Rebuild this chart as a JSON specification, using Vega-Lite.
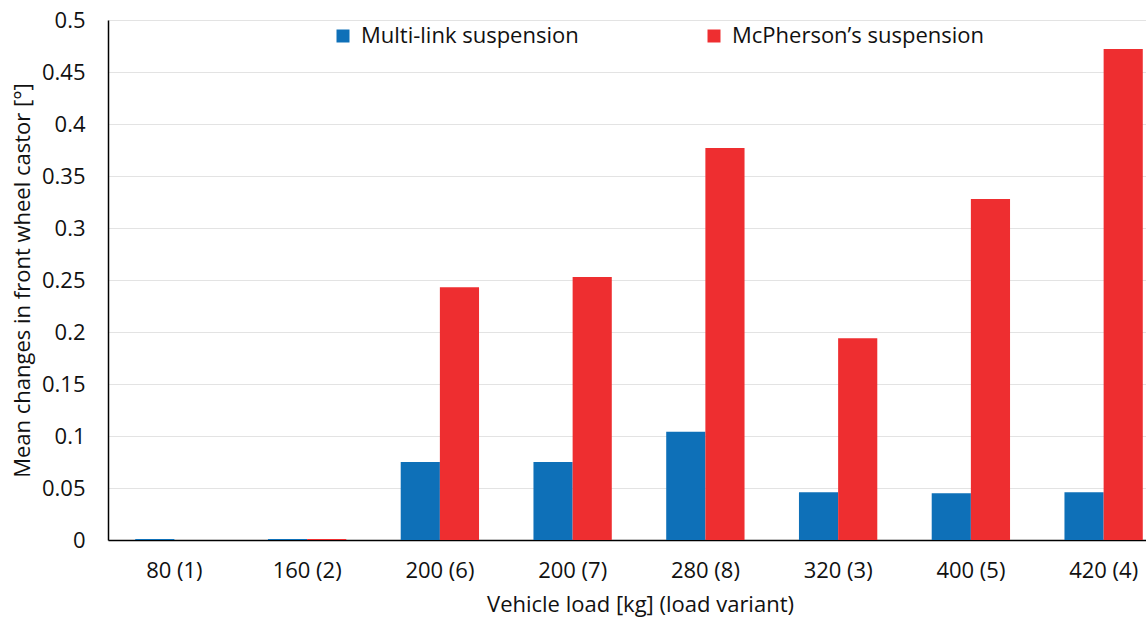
{
  "$schema": "https://vega.github.io/schema/vega-lite/v6.json",
  "autosize": {"type": "none"},
  "width": 1038,
  "height": 520,
  "padding": {"left": 108, "top": 20, "right": 0, "bottom": 79},
  "background": "white",
  "config": {
    "font": "Open Sans",
    "view": {"stroke": null},
    "axis": {"labelFont": "Open Sans", "titleFont": "Open Sans", "labelColor": "#111", "titleColor": "#111", "labelFontSize": 22, "titleFontSize": 22, "titleFontWeight": "normal"}
  },
  "data": {
    "values": [
      {"load": "80 (1)", "series": "Multi-link suspension", "value": 0.001},
      {"load": "80 (1)", "series": "McPherson’s suspension", "value": 0},
      {"load": "160 (2)", "series": "Multi-link suspension", "value": 0.001},
      {"load": "160 (2)", "series": "McPherson’s suspension", "value": 0.001},
      {"load": "200 (6)", "series": "Multi-link suspension", "value": 0.075},
      {"load": "200 (6)", "series": "McPherson’s suspension", "value": 0.243},
      {"load": "200 (7)", "series": "Multi-link suspension", "value": 0.075},
      {"load": "200 (7)", "series": "McPherson’s suspension", "value": 0.253},
      {"load": "280 (8)", "series": "Multi-link suspension", "value": 0.104},
      {"load": "280 (8)", "series": "McPherson’s suspension", "value": 0.377},
      {"load": "320 (3)", "series": "Multi-link suspension", "value": 0.046},
      {"load": "320 (3)", "series": "McPherson’s suspension", "value": 0.194},
      {"load": "400 (5)", "series": "Multi-link suspension", "value": 0.045},
      {"load": "400 (5)", "series": "McPherson’s suspension", "value": 0.328},
      {"load": "420 (4)", "series": "Multi-link suspension", "value": 0.046},
      {"load": "420 (4)", "series": "McPherson’s suspension", "value": 0.472}
    ]
  },
  "mark": {"type": "bar"},
  "encoding": {
    "x": {
      "field": "load", "type": "nominal", "sort": null,
      "scale": {"range": [0, 1062], "paddingInner": 0.41, "paddingOuter": 0.205},
      "axis": {"title": "Vehicle load [kg] (load variant)", "labelAngle": 0, "ticks": false, "domainColor": "#000", "domainWidth": 1.5, "labelPadding": 20, "titlePadding": 13, "titleX": 532}
    },
    "xOffset": {"field": "series", "type": "nominal", "sort": ["Multi-link suspension", "McPherson’s suspension"], "scale": {"paddingInner": 0, "paddingOuter": 0}},
    "y": {
      "field": "value", "type": "quantitative",
      "scale": {"domain": [0, 0.5], "nice": false},
      "axis": {"title": "Mean changes in front wheel castor [°]", "values": [0, 0.05, 0.1, 0.15, 0.2, 0.25, 0.3, 0.35, 0.4, 0.45, 0.5], "format": "", "ticks": false, "domainColor": "#000", "domainWidth": 1.5, "gridColor": "#e3e3e3", "gridWidth": 1.2, "labelPadding": 23, "titlePadding": 7}
    },
    "color": {
      "field": "series", "type": "nominal",
      "scale": {"domain": ["Multi-link suspension", "McPherson’s suspension"], "range": ["#0E70B8", "#EE2E30"]},
      "legend": {"title": null, "orient": "none", "legendX": 224, "legendY": 5, "direction": "horizontal", "symbolType": "square", "symbolSize": 169, "symbolStrokeWidth": 0, "labelFontSize": 22, "labelColor": "#111", "labelFont": "Open Sans", "labelOffset": 7, "columnPadding": 124, "labelLimit": 400}
    }
  }
}
